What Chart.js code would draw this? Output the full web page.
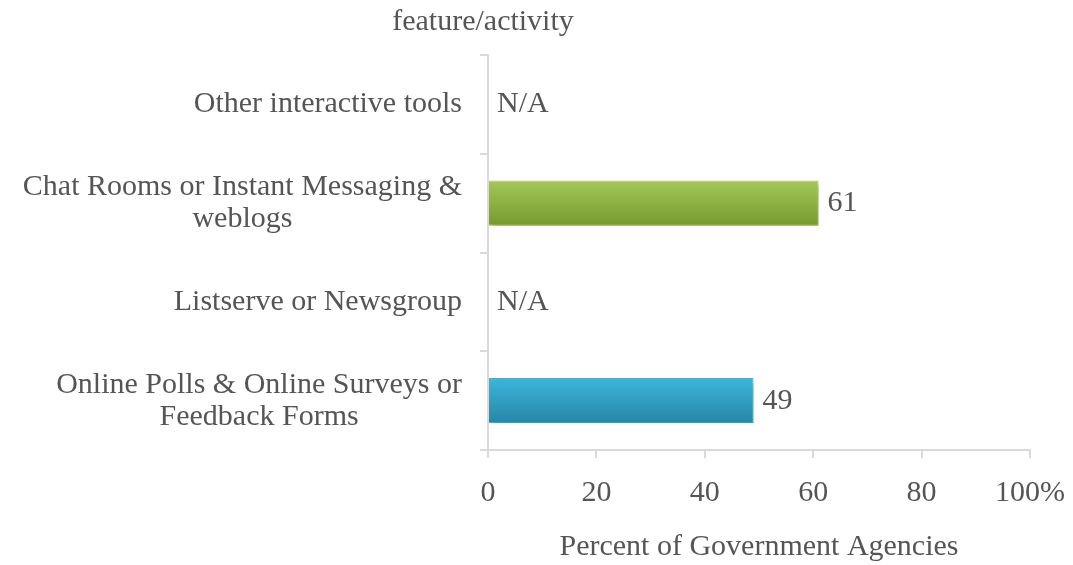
<!DOCTYPE html>
<html>
<head>
<meta charset="utf-8">
<script src="https://cdn.jsdelivr.net/npm/chart.js@4/dist/chart.umd.min.js"></script>
<style>
    html, body { margin: 0; padding: 0; background: #fff; }
    canvas { display: block; }
</style>
</head>
<body>
<canvas id="agency-chart" width="1073" height="565"></canvas>
<script>
// Feature / activity rows, top to bottom
const activities = [
    ['Other interactive tools'],
    ['Chat Rooms or Instant Messaging &', 'weblogs'],
    ['Listserve or Newsgroup'],
    ['Online Polls & Online Surveys or', 'Feedback Forms']
];
// Percent of agencies; null = not available
const percents = [null, 61, null, 49];
const barColors = [
    ['#a3c855', '#76992f'],
    ['#a3c855', '#76992f'],
    ['#3bb6dc', '#2886a6'],
    ['#3bb6dc', '#2886a6']
];
const xTicks = [0, 20, 40, 60, 80, 100];

const FONT = '"Liberation Serif", "Times New Roman", serif';
const TEXT = '#555555';

// Per-bar vertical gradient, built from the y scale
function barFill(ctx) {
    const chart = ctx.chart;
    const y = chart.scales.y;
    const pair = barColors[ctx.dataIndex];
    if (!chart.chartArea || !y) return pair[0];
    const mid = y.getPixelForValue(ctx.dataIndex);
    const half = y.getPixelForValue(1) - y.getPixelForValue(0);
    const g = chart.ctx.createLinearGradient(0, mid - half * 0.23, 0, mid + half * 0.23);
    g.addColorStop(0, pair[0]);
    g.addColorStop(1, pair[1]);
    return g;
}

// Soft drop shadow under the bars
const barShadow = {
    id: 'barShadow',
    beforeDatasetsDraw(chart) {
        const c = chart.ctx;
        c.save();
        c.shadowColor = 'rgba(0,0,0,0.2)';
        c.shadowOffsetX = 3;
        c.shadowOffsetY = 5;
        c.shadowBlur = 4;
    },
    afterDatasetsDraw(chart) {
        chart.ctx.restore();
    }
};

// Category labels: block right-aligned, lines centred within the block
const categoryLabels = {
    id: 'categoryLabels',
    afterDraw(chart) {
        const c = chart.ctx;
        const y = chart.scales.y;
        const right = y.right - 26;
        c.save();
        c.font = '30px ' + FONT;
        c.fillStyle = TEXT;
        c.textAlign = 'center';
        c.textBaseline = 'middle';
        activities.forEach((lines, i) => {
            const w = Math.max(...lines.map(l => c.measureText(l).width));
            const cx = right - w / 2;
            const cy = y.getPixelForValue(i);
            lines.forEach((line, k) => {
                c.fillText(line, cx, cy + (k - (lines.length - 1) / 2) * 32);
            });
        });
        // axis heading above the category axis
        c.fillText('feature/activity', y.right - 5, 22);
        c.restore();
    }
};

// Value labels at bar ends, N/A where there is no value
const valueLabels = {
    id: 'valueLabels',
    afterDatasetsDraw(chart) {
        const c = chart.ctx;
        const x = chart.scales.x;
        const y = chart.scales.y;
        c.save();
        c.font = '30px ' + FONT;
        c.fillStyle = TEXT;
        c.textAlign = 'left';
        c.textBaseline = 'middle';
        percents.forEach((v, i) => {
            const cy = y.getPixelForValue(i);
            if (v === null) {
                c.fillText('N/A', x.getPixelForValue(0) + 9, cy);
            } else {
                c.fillText(String(v), x.getPixelForValue(v) + 9, cy);
            }
        });
        c.restore();
    }
};

new Chart(document.getElementById('agency-chart'), {
    type: 'bar',
    data: {
        labels: activities,
        datasets: [{
            data: percents,
            backgroundColor: barFill,
            borderColor: ctx => barColors[ctx.dataIndex][0],
            borderWidth: 1,
            barPercentage: 0.46,
            categoryPercentage: 1
        }]
    },
    options: {
        indexAxis: 'y',
        responsive: false,
        animation: false,
        layout: { padding: { top: 55, right: 43, left: 0, bottom: 0 } },
        plugins: {
            legend: { display: false },
            tooltip: { enabled: false }
        },
        scales: {
            x: {
                min: 0,
                max: 100,
                afterBuildTicks: scale => { scale.ticks = xTicks.map(v => ({ value: v })); },
                border: { color: '#d9d9d9', width: 2 },
                grid: { drawOnChartArea: false, color: '#d9d9d9', tickLength: 8, lineWidth: 2 },
                ticks: {
                    padding: 17,
                    color: TEXT,
                    font: { family: FONT, size: 30 },
                    maxRotation: 0,
                    callback: v => v === 100 ? '100%' : String(v)
                },
                title: {
                    display: true,
                    text: 'Percent of Government Agencies',
                    color: TEXT,
                    font: { family: FONT, size: 30 },
                    padding: { top: 18, bottom: 0 }
                },
                afterFit: scale => {
                    scale.height = 115;
                    scale.paddingRight = 0;
                    scale.paddingLeft = 0;
                }
            },
            y: {
                border: { color: '#d9d9d9', width: 2 },
                grid: { drawOnChartArea: false, color: '#d9d9d9', tickLength: 8, lineWidth: 2, offset: true },
                ticks: { display: false },
                afterFit: scale => { scale.width = 488; }
            }
        }
    },
    plugins: [barShadow, categoryLabels, valueLabels]
});
</script>
</body>
</html>
